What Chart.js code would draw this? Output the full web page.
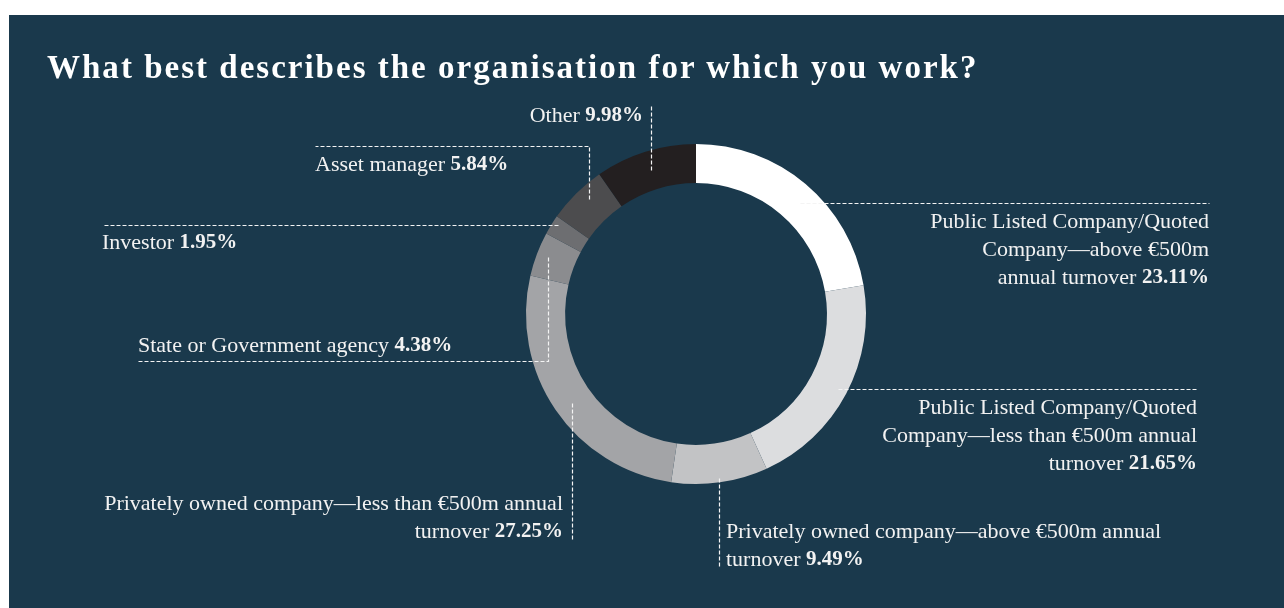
<!DOCTYPE html>
<html>
<head>
<meta charset="utf-8">
<script src="https://cdn.jsdelivr.net/npm/chart.js@4"></script>
<style>
  html, body { margin: 0; padding: 0; background: #ffffff; width: 1284px; height: 608px; overflow: hidden; }
  #panel { position: absolute; left: 9px; top: 15px; width: 1275px; height: 593px; background: #1a394c; }
  #title { position: absolute; left: 47px; top: 46px; color: #ffffff; font-family: "Liberation Serif", serif; font-weight: bold; font-size: 33px; line-height: 42px; white-space: nowrap; letter-spacing: 1px; }
  #wrap { position: absolute; left: 0; top: 0; width: 1284px; height: 608px; }
</style>
</head>
<body>
<div id="panel"></div>
<div id="wrap"><canvas id="chart" width="1284" height="608"></canvas></div>
<div id="title">What best describes the organisation for which you work?</div>
<script>
// ---- data ----
const categories = [
  ['Public Listed Company/Quoted', 'Company\u2014above \u20ac500m', 'annual turnover'],
  ['Public Listed Company/Quoted', 'Company\u2014less than \u20ac500m annual', 'turnover'],
  ['Privately owned company\u2014above \u20ac500m annual', 'turnover'],
  ['Privately owned company\u2014less than \u20ac500m annual', 'turnover'],
  ['State or Government agency'],
  ['Investor'],
  ['Asset manager'],
  ['Other']
];
const values = [23.11, 21.65, 9.49, 27.25, 4.38, 1.95, 5.84, 9.98];
const valueLabels = ['23.11%', '21.65%', '9.49%', '27.25%', '4.38%', '1.95%', '5.84%', '9.98%'];

// ---- styles / layout ----
const colors = ['#ffffff', '#dcdddf', '#c2c3c5', '#a3a4a7', '#8b8c8f', '#6d6e71', '#4c4c4e', '#231f20'];
const labelLayout = [
  { align: 'right', x: 1209, y: 222, leader: [[800, 203], [1209, 203]] },
  { align: 'right', x: 1197, y: 408, leader: [[838, 389], [1197, 389]] },
  { align: 'left',  x: 726,  y: 532, leader: [[719, 478], [719, 568]] },
  { align: 'right', x: 563,  y: 504, leader: [[572, 403], [572, 540]] },
  { align: 'left',  x: 138,  y: 346, leader: [[548, 257], [548, 361], [138, 361]] },
  { align: 'left',  x: 102,  y: 243, leader: [[558, 225], [102, 225]] },
  { align: 'left',  x: 315,  y: 165, leader: [[589, 199], [589, 146], [315, 146]] },
  { align: 'right', x: 643,  y: 116, leader: [[651, 170], [651, 105]] }
];
const LINE_H = 28;
const FONT_REG = '22px "Liberation Serif"';
const FONT_BOLD = 'bold 21px "Liberation Serif"';
const TEXT_COLOR = '#f2f2f2';

// fit title width
(function () {
  const t = document.getElementById('title');
  const c = document.createElement('canvas').getContext('2d');
  c.font = 'bold 33px "Liberation Serif"';
  const txt = t.textContent;
  const w = c.measureText(txt).width;
  const target = 930;
  t.style.letterSpacing = ((target - w) / (txt.length - 1)) + 'px';
})();

const labelPlugin = {
  id: 'labels',
  afterDraw(chart) {
    const ctx = chart.ctx;
    ctx.save();
    ctx.strokeStyle = '#f4f4f4';
    ctx.lineWidth = 1.2;
    ctx.setLineDash([4, 2]);
    labelLayout.forEach(L => {
      ctx.beginPath();
      L.leader.forEach((p, i) => {
        const x = Math.round(p[0]) + 0.5, y = Math.round(p[1]) + 0.5;
        if (i === 0) ctx.moveTo(x, y); else ctx.lineTo(x, y);
      });
      ctx.stroke();
    });
    ctx.setLineDash([]);
    ctx.fillStyle = TEXT_COLOR;
    ctx.textBaseline = 'middle';
    const labels = chart.data.labels;
    labels.forEach((lines, i) => {
      const L = labelLayout[i];
      lines.forEach((line, j) => {
        const y = L.y + j * LINE_H;
        const isLast = j === lines.length - 1;
        ctx.font = FONT_REG;
        const regText = isLast ? line + ' ' : line;
        const wReg = ctx.measureText(regText).width;
        let wBold = 0;
        if (isLast) { ctx.font = FONT_BOLD; wBold = ctx.measureText(valueLabels[i]).width; }
        const total = wReg + wBold;
        const x0 = L.align === 'right' ? L.x - total : L.x;
        ctx.textAlign = 'left';
        ctx.font = FONT_REG;
        ctx.fillText(regText, x0, y);
        if (isLast) { ctx.font = FONT_BOLD; ctx.fillText(valueLabels[i], x0 + wReg, y); }
      });
    });
    ctx.restore();
  }
};

new Chart(document.getElementById('chart'), {
  type: 'doughnut',
  data: {
    labels: categories,
    datasets: [{
      data: values,
      backgroundColor: colors,
      borderWidth: 0
    }]
  },
  options: {
    responsive: false,
    animation: false,
    cutout: '77%',
    layout: { padding: { left: 526, right: 418, top: 144, bottom: 124 } },
    plugins: { legend: { display: false }, tooltip: { enabled: false }, title: { display: false } }
  },
  plugins: [labelPlugin]
});
</script>
</body>
</html>
